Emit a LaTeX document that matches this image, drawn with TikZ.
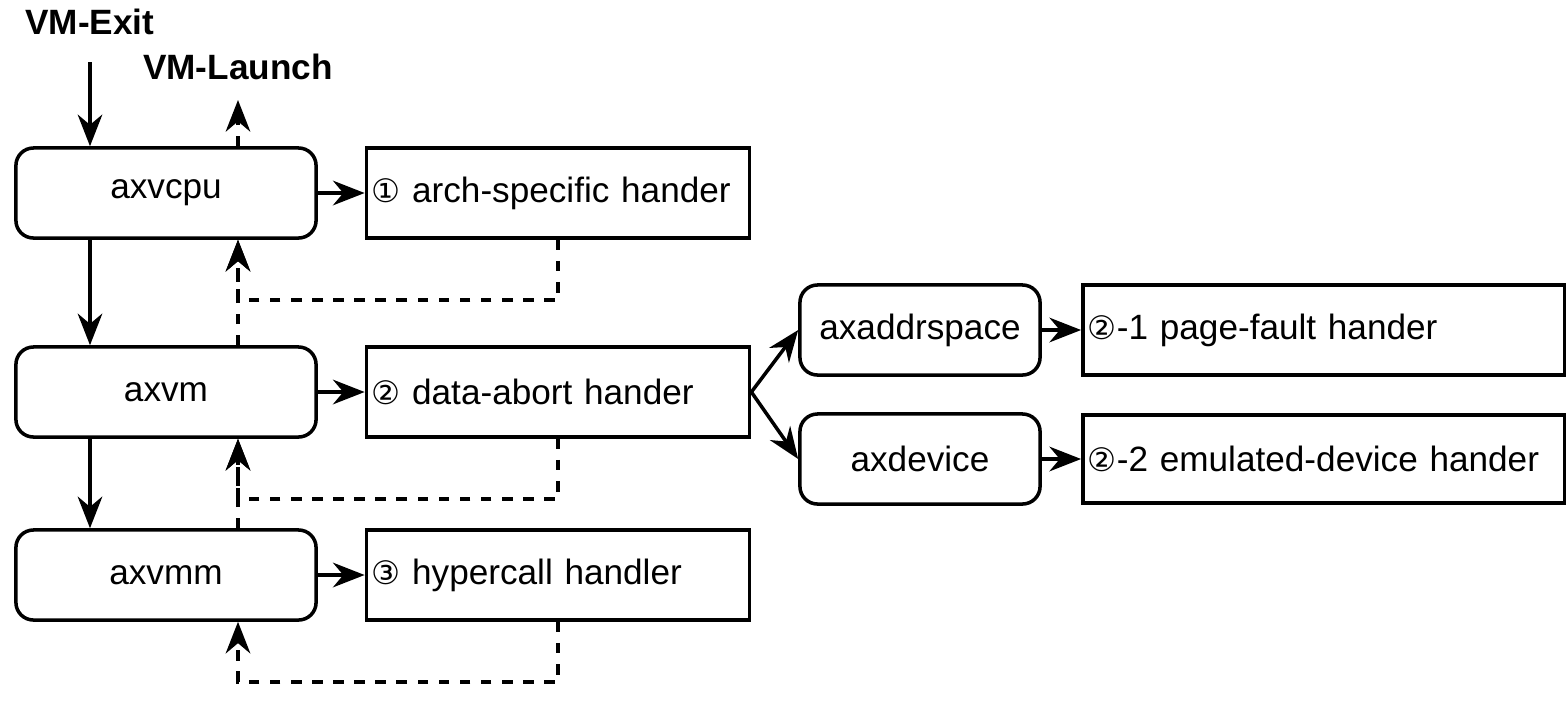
\documentclass[tikz,border=0pt]{standalone}
\usepackage{fontspec}
\setmainfont{Liberation Sans}
\newfontfamily\circfont{DejaVu Sans}[Scale=0.92]
\newcommand{\cnum}[1]{{\circfont #1}}
\usetikzlibrary{arrows.meta}

\begin{document}
\begin{tikzpicture}[x=0.01cm,y=-0.01cm,font=\fontsize{10}{12}\selectfont,>={Stealth[length=9pt,width=7pt]},line width=1pt,
mod/.style={draw, rounded corners=5pt, minimum height=0.9cm, minimum width=#1, inner sep=0pt},
hnd/.style={draw, minimum height=0.9cm, inner xsep=0.05cm, inner ysep=0pt, text width=#1, align=left},
ret/.style={dashed, ->}]
\useasboundingbox (0,0) rectangle (1566,702);
\node[mod=3cm](axvcpu) at (166,193) {axvcpu};
\node[mod=3cm](axvm) at (166,392) {axvm};
\node[mod=3cm](axvmm) at (166,575) {axvmm};
\node[hnd=3.73cm](arch) at (558,193) {\mbox{\cnum{①} arch-specific hander}};
\node[hnd=3.73cm](abort) at (558,392) {\mbox{\cnum{②} data-abort hander}};
\node[hnd=3.73cm](hcall) at (558,575) {\mbox{\cnum{③} hypercall handler}};
\node[mod=2.4cm](addr) at (920,330) {axaddrspace};
\node[mod=2.4cm](dev) at (920,459) {axdevice};
\node[hnd=4.72cm](pf) at (1324,330) {\mbox{\cnum{②}-1 page-fault hander}};
\node[hnd=4.72cm, minimum height=0.88cm](emu) at (1324,459) {\mbox{\cnum{②}-2 emulated-device hander}};
\node[font=\fontsize{10}{12}\selectfont\bfseries](exit) at (90,22) {VM-Exit};
\node[font=\fontsize{10}{12}\selectfont\bfseries](launch) at (238,67) {VM-Launch};
\coordinate (top) at (90,62);
\coordinate (up) at (238,100);
\draw[->] (top) -- (axvcpu.north -| top);
\draw[ret] (axvcpu.north -| up) -- (up);
\draw[->] (axvcpu.south -| top) -- (axvm.north -| top);
\draw[->] (axvm.south -| top) -- (axvmm.north -| top);
\draw[->] (axvcpu) -- (arch);
\draw[->] (axvm) -- (abort);
\draw[->] (axvmm) -- (hcall);
\draw[->] (abort.east) -- (addr.west);
\draw[->] (abort.east) -- (dev.west);
\draw[->] (addr) -- (pf);
\draw[->] (dev) -- (emu);
% returns
\draw[ret] (arch.south) -- ++(0,60) -| (axvcpu.south -| up);
\draw[ret] (axvm.north -| up) -- (axvcpu.south -| up);
\draw[ret] (abort.south) -- ++(0,60) -| (axvm.south -| up);
\draw[ret] (axvmm.north -| up) -- (axvm.south -| up);
\draw[ret] (hcall.south) -- ++(0,60) -| (axvmm.south -| up);
\end{tikzpicture}
\end{document}
